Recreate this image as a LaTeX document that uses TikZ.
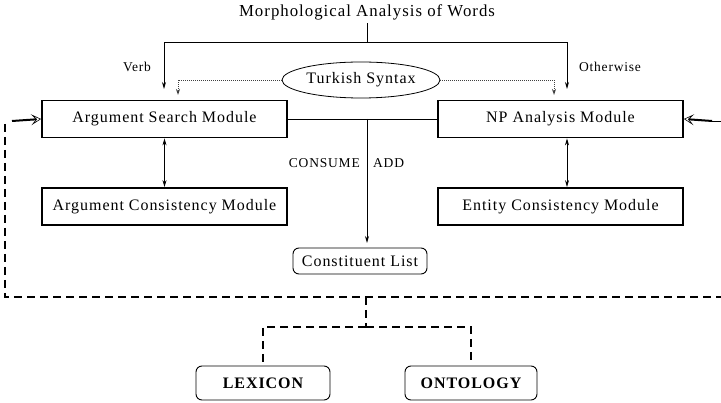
\documentclass[tikz,border=0pt]{standalone}
\usepackage{fontspec}
\setmainfont{Liberation Serif}[LetterSpace=6]
\usetikzlibrary{arrows.meta,shapes.geometric}
\tikzset{
  bigtext/.style={font=\fontsize{16}{18}\selectfont},
  smalltext/.style={font=\fontsize{13.5}{15}\selectfont},
  module/.style={draw, line width=1.8pt, minimum width=245pt, minimum height=37pt, inner sep=0pt, bigtext},
  roundbox/.style={draw, line width=0.9pt, rounded corners=6pt, inner sep=0pt, bigtext},
  thin/.style={line width=0.8pt},
  tip/.style={-{Stealth[length=7pt,width=4pt]}},
  dtip/.style={{Stealth[length=7pt,width=4pt]}-{Stealth[length=7pt,width=4pt]}},
  dotline/.style={line width=0.7pt, black!75, dash pattern=on 1pt off 1pt, -{Stealth[open,length=6pt,width=4pt]}},
  dashline/.style={line width=1.6pt, dash pattern=on 8pt off 5pt},
  fbtip/.style={line width=2pt, -{Stealth[open,inset=2.5pt,length=5pt,width=5.5pt,line width=0.6pt,scale=2]}}
}
\begin{document}
\begin{tikzpicture}[x=1pt,y=-1pt]
\useasboundingbox (0,0) rectangle (721,403);

% nodes
\node[font=\fontsize{16.8}{19}\selectfont] (title) at (367,12) {Morphological Analysis of Words};
\node[module] (asm) at (164.5,119) {Argument Search Module};
\node[module] (npm) at (560.5,119) {NP Analysis Module};
\node[module] (acm) at (164.5,206.5) {Argument Consistency Module};
\node[module] (ecm) at (560.5,206.5) {Entity Consistency Module};
\node[draw, thin, ellipse, minimum width=158pt, minimum height=36pt, inner sep=0pt, bigtext] (ts) at (361,80) {Turkish Syntax};
\node[roundbox, minimum width=134pt, minimum height=26pt] (cl) at (360,261) {Constituent List};
\node[roundbox, minimum width=134pt, minimum height=34pt, font=\fontsize{16}{18}\selectfont\bfseries] (lex) at (263,383) {LEXICON};
\node[roundbox, minimum width=132pt, minimum height=34pt, font=\fontsize{16}{18}\selectfont\bfseries] (ont) at (471,383) {ONTOLOGY};

\node[smalltext] (verb) at (137,67) {Verb};
\node[smalltext] (oth) at (610,67) {Otherwise};
\node[smalltext, anchor=east, inner sep=0pt] (cons) at (360,163) {CONSUME};
\node[smalltext, anchor=west, inner sep=0pt] (add) at (373,163) {ADD};

% coordinates
\coordinate (tj) at (367,42);
\coordinate (va) at (164,89);
\coordinate (oa) at (567,89);
\coordinate (dl) at (178,95);
\coordinate (dr) at (554,95);
\coordinate (mid) at (367,119);
\coordinate (cla) at (367,243);
\coordinate (fbl) at (5,297);
\coordinate (fblt) at (5,124);
\coordinate (fbr) at (721,297);
\coordinate (la) at (12,121);
\coordinate (ra) at (712,121);
\coordinate (re) at (721,121);
\coordinate (d1) at (366,297);
\coordinate (d2) at (366,327);

% top connectors
\draw[thin] (title.south -| tj) -- (tj);
\draw[thin, tip] (tj) -| (va);
\draw[thin, tip] (tj) -| (oa);
\draw[dotline] (ts.west) -| (dl);
\draw[dotline] (ts.east) -| (dr);

% module connectors
\draw[thin] (asm.east) -- (npm.west);
\draw[thin, tip] (mid) -- (cla);
\draw[thin, dtip] (asm.south) -- (acm.north);
\draw[thin, dtip] ([xshift=6.5pt]npm.south) -- ([xshift=6.5pt]ecm.north);

% feedback dashed loop
\draw[dashline] (fblt) -- (fbl) -- (fbr);
\draw[fbtip] (la) -- (asm.west);
\draw[thin] (re) -- (ra);
\draw[fbtip] (ra) -- (npm.east);

% knowledge sources
\draw[dashline] (d1) -- (d2);
\draw[dashline, shorten >=4pt] (d2) -| (lex.north);
\draw[dashline, shorten >=4pt] (d2) -| (ont.north);
\end{tikzpicture}
\end{document}
